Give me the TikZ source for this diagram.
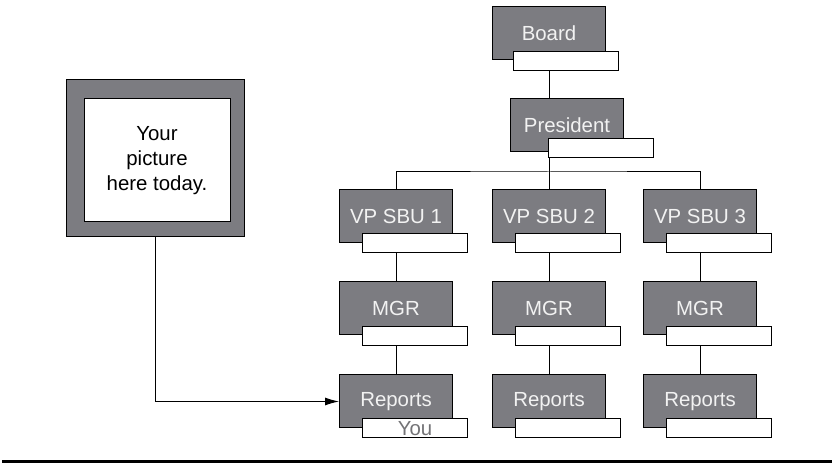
\documentclass[tikz,border=0pt]{standalone}
\usepackage{fontspec}
\setmainfont{Liberation Sans}
\usetikzlibrary{arrows.meta,positioning,backgrounds}
\definecolor{boxgray}{RGB}{124,124,129}
\definecolor{txtwhite}{RGB}{242,242,242}
\definecolor{yougray}{RGB}{115,115,118}

\begin{document}
\begin{tikzpicture}[
  x=0.5pt, y=-0.5pt,
  >={Latex[length=7pt,width=4pt]},
  every node/.style={font=\fontsize{10.2}{12.5}\selectfont},
  post/.style={draw, line width=0.5pt, fill=boxgray, text=txtwhite,
               minimum width=56.5pt, minimum height=26.5pt, inner sep=0pt},
  tag/.style={draw, line width=0.5pt, fill=white, anchor=north west,
              minimum width=52.5pt, minimum height=9.5pt, inner sep=0pt},
  link/.style={line width=0.5pt}
]
\useasboundingbox (0,0) rectangle (832,464);
%% top of the chart
\node[post] (board) at (549,33) {Board};
\node[tag] (boardtag) at ([shift={(21,-9)}]board.south west) {};
\node[post] (pres) at (567,125.5) {President};
\node[tag] (prestag) at ([shift={(38,-14)}]pres.south west) {};
\coordinate (bus) at (549,172);
%% three business units
\foreach \i/\x/\who in {1/396/You, 2/549/{}, 3/700/{}}{
  \node[post] (vp\i) at (\x,216.5) {VP SBU \i};
  \node[tag] (vptag\i) at ([shift={(23,-10)}]vp\i.south west) {};
  \node[post] (mgr\i) at (\x,308.5) {MGR};
  \node[tag] (mgrtag\i) at ([shift={(23,-9)}]mgr\i.south west) {};
  \node[post] (rep\i) at (\x,401.5) {Reports};
  \node[tag, text=yougray] (reptag\i) at ([shift={(23,-10)}]rep\i.south west) {\who};
}
%% picture frame
\node[draw, line width=0.5pt, fill=boxgray, minimum width=89pt,
      minimum height=78.5pt] (frame) at (155,158.5) {};
\node[draw, line width=0.5pt, fill=white, minimum width=73pt,
      minimum height=61.5pt, align=center] (photo) at (157,160.5)
  {Your\\picture\\here today.};
%% connectors
\begin{scope}[on background layer]
  \draw[link] (board) -- (bus);
  \draw[link] (vp1) |- (bus) -| (vp3);
  \draw[link] (bus) -- (vp2);
  \foreach \i in {1,2,3}
    \draw[link] (vp\i) -- (mgr\i) -- (rep\i);
\end{scope}
\draw[link, ->] (frame) |- (rep1);
%% rule at the bottom
\draw[line width=1.5pt] (2,462) -- (832,462);
\end{tikzpicture}
\end{document}
